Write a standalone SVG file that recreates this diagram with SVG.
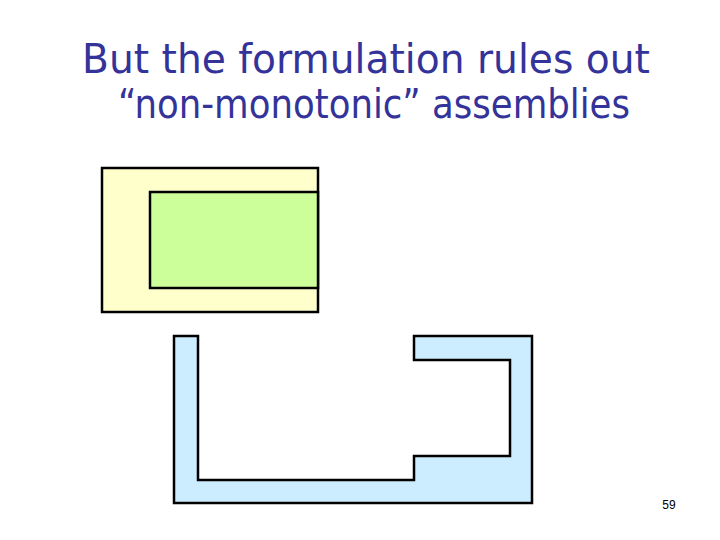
<svg xmlns="http://www.w3.org/2000/svg" width="720" height="540" viewBox="0 0 720 540">
<style>
.title{font-family:"DejaVu Sans","Liberation Sans",sans-serif;font-size:40px;fill:#333399;}
.shape{stroke:#000;stroke-width:2.5;}
.num{font-family:"Liberation Sans",Arial,sans-serif;font-size:12px;fill:#000;}
</style>
<rect width="720" height="540" fill="#fff"/>
<text class="title" x="366" y="73" text-anchor="middle" textLength="568" lengthAdjust="spacingAndGlyphs">But the formulation rules out</text>
<text class="title" x="374" y="118" text-anchor="middle" textLength="512" lengthAdjust="spacingAndGlyphs">“non-monotonic” assemblies</text>
<g id="outer-part">
<rect class="shape" x="102" y="168" width="216" height="144" fill="#FFFFCC"/>
</g>
<g id="inner-part">
<rect class="shape" x="150" y="192" width="168" height="96" fill="#CCFF99"/>
</g>
<g id="u-part">
<path class="shape" d="M174,336 H198 V480 H414 V456 H510 V360 H414 V336 H532 V503 H174 Z" fill="#CCECFF"/>
</g>
<text class="num" x="669" y="509" text-anchor="middle">59</text>
</svg>
